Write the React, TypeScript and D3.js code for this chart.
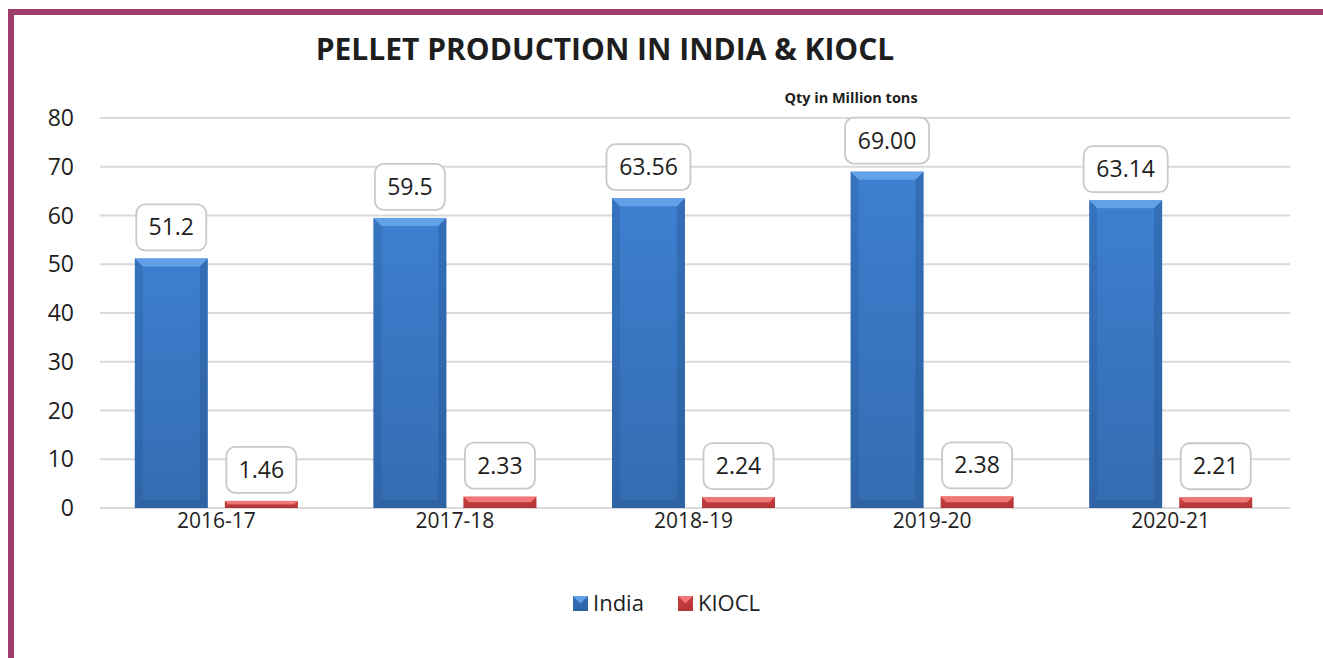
import * as d3 from 'd3';

const years = ['2016-17', '2017-18', '2018-19', '2019-20', '2020-21'];
const indiaValues = [51.2, 59.5, 63.56, 69.0, 63.14];
const kioclValues = [1.46, 2.33, 2.24, 2.38, 2.21];
const indiaLabels = ['51.2', '59.5', '63.56', '69.00', '63.14'];
const kioclLabels = ['1.46', '2.33', '2.24', '2.38', '2.21'];
const yTicks = [0, 10, 20, 30, 40, 50, 60, 70, 80];
const seriesNames = ['India', 'KIOCL'];

const FONT = "'Open Sans', 'Noto Sans', sans-serif";

const palette: Record<string, { face: string; light: string; dark: string; grad: string }> = {
  India: { face: '#3d7fd0', light: '#68a6ec', dark: '#234f8a', grad: 'gIndia' },
  KIOCL: { face: '#e04a4a', light: '#f58080', dark: '#9c2424', grad: 'gKiocl' },
};

// bar with a bevelled look
const Bar = ({ x, y, w, h, name }: { x: number; y: number; w: number; h: number; name: string }) => {
  const c = palette[name];
  const b = Math.min(8, h / 2, w / 2);
  return (
    <g>
      <rect x={x} y={y} width={w} height={h} fill={`url(#${c.grad})`} />
      <polygon points={`${x},${y} ${x + w},${y} ${x + w - b},${y + b} ${x + b},${y + b}`} fill={c.light} opacity={0.85} />
      <polygon points={`${x},${y} ${x + b},${y + b} ${x + b},${y + h - b} ${x},${y + h}`} fill={c.dark} opacity={0.25} />
      <polygon points={`${x + w},${y} ${x + w - b},${y + b} ${x + w - b},${y + h - b} ${x + w},${y + h}`} fill={c.dark} opacity={0.35} />
      <polygon points={`${x},${y + h} ${x + b},${y + h - b} ${x + w - b},${y + h - b} ${x + w},${y + h}`} fill={c.dark} opacity={0.35} />
    </g>
  );
};

const LabelBox = ({ cx, bottom, text }: { cx: number; bottom: number; text: string }) => {
  const w = 14 * text.length + 14;
  const h = 46;
  return (
    <g>
      <rect x={cx - w / 2} y={bottom - h} width={w} height={h} rx={9} fill="#fff" stroke="#c9c9c9" strokeWidth={1.8} />
      <text x={cx} y={bottom - h / 2 + 8} textAnchor="middle" fontSize={23} fill="#1e1e1e" fontFamily={FONT}>
        {text}
      </text>
    </g>
  );
};

export default function App() {
  const width = 1323;
  const height = 658;

  const x = d3.scaleBand<string>().domain(years).range([97, 1290]);
  const xs = d3.scaleBand<string>().domain(seriesNames).range([0, x.bandwidth()]).paddingInner(0.19).paddingOuter(0.42);
  const y = d3.scaleLinear().domain([0, 80]).range([508, 118]);

  const series = [
    { name: 'India', values: indiaValues, labels: indiaLabels },
    { name: 'KIOCL', values: kioclValues, labels: kioclLabels },
  ];

  return (
    <svg width={width} height={height} style={{ position: 'absolute', left: 0, top: 0, background: '#fff' }}>
      <defs>
        {seriesNames.map((n) => (
          <linearGradient key={n} id={palette[n].grad} x1="0" y1="0" x2="0" y2="1">
            <stop offset="0%" stopColor={palette[n].face} />
            <stop offset="100%" stopColor={d3.color(palette[n].face)!.darker(0.45).toString()} />
          </linearGradient>
        ))}
      </defs>

      {/* frame */}
      <path d={`M11,${height} L11,12 L${width},12`} fill="none" stroke="#9e3f6b" strokeWidth={6} />

      <text x={605} y={60} textAnchor="middle" fontSize={30} fontWeight="bold" fill="#1e1e1e" fontFamily={FONT}>
        PELLET PRODUCTION IN INDIA &amp; KIOCL
      </text>
      <text x={851} y={103} textAnchor="middle" fontSize={14.5} fontWeight="bold" fill="#1e1e1e" fontFamily={FONT}>
        Qty in Million tons
      </text>

      {/* grid and y axis */}
      {yTicks.map((t) => (
        <g key={t}>
          <line x1={100} x2={1290} y1={y(t)} y2={y(t)} stroke="#d9d9d9" strokeWidth={2} />
          <text x={74} y={y(t) + 8} textAnchor="end" fontSize={23} fill="#1e1e1e" fontFamily={FONT}>
            {t}
          </text>
        </g>
      ))}

      {/* bars */}
      {series.map((s) =>
        years.map((yr, i) => {
          const bx = (x(yr) || 0) + (xs(s.name) || 0);
          const bw = xs.bandwidth();
          const top = y(s.values[i]);
          return (
            <g key={s.name + yr}>
              <Bar x={bx} y={top} w={bw} h={y(0) - top} name={s.name} />
              <LabelBox cx={bx + bw / 2} bottom={top - 8} text={s.labels[i]} />
            </g>
          );
        })
      )}

      {/* x axis labels */}
      {years.map((yr) => (
        <text key={yr} x={(x(yr) || 0) + x.bandwidth() / 2} y={528} textAnchor="middle" fontSize={21} fill="#1e1e1e" fontFamily={FONT}>
          {yr}
        </text>
      ))}

      {/* legend */}
      {seriesNames.map((n, i) => {
        const lx = i === 0 ? 573 : 678;
        return (
          <g key={n}>
            <Bar x={lx} y={596} w={15} h={15} name={n} />
            <text x={lx + 20} y={611} fontSize={22} fill="#1e1e1e" fontFamily={FONT}>
              {n}
            </text>
          </g>
        );
      })}
    </svg>
  );
}
